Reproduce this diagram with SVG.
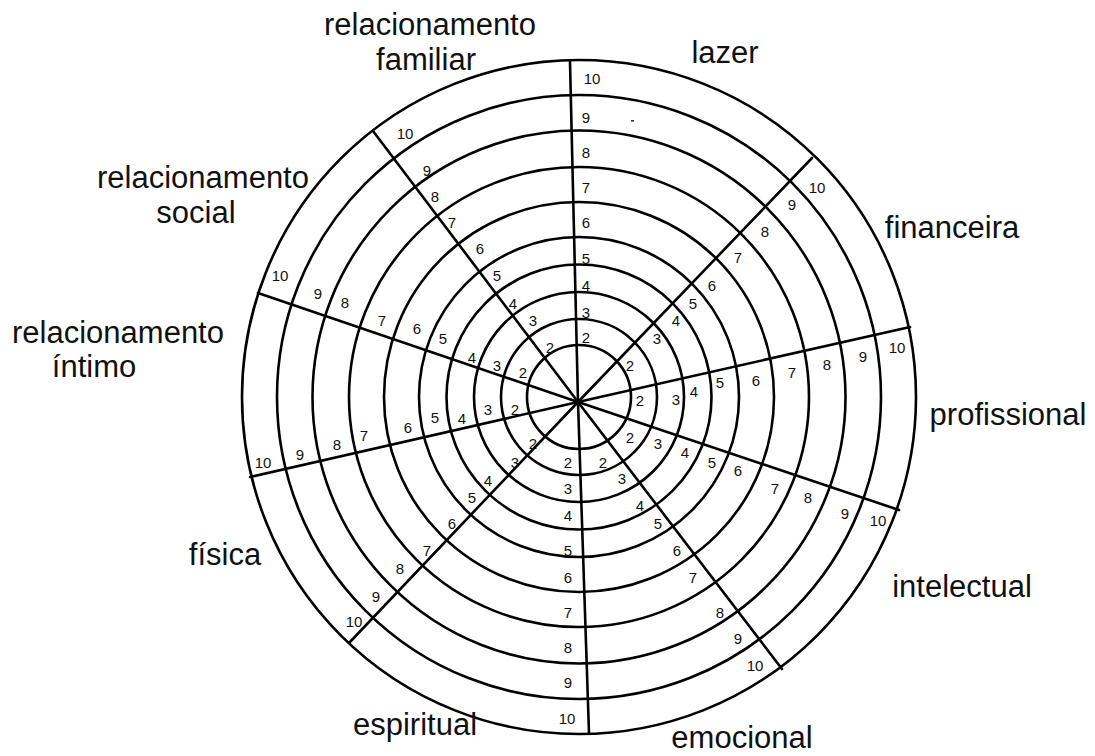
<svg xmlns="http://www.w3.org/2000/svg" width="1095" height="756" viewBox="0 0 1095 756">
<style>
.ring{fill:none;stroke:#000;stroke-width:2.6}
.spoke{stroke:#000;stroke-width:2.6;stroke-linecap:round}
.n text{font-family:"Liberation Sans",Arial,sans-serif;font-size:15px;fill:#111;text-anchor:middle;dominant-baseline:central}
.lbl{font-family:"Liberation Sans",Arial,sans-serif;font-size:31px;fill:#111;text-anchor:middle}
</style>
<rect width="1095" height="756" fill="#fff"/>
<g id="rings" class="ring">
<circle cx="579" cy="397" r="52"/>
<circle cx="579" cy="397" r="78"/>
<circle cx="579" cy="397" r="105"/>
<circle cx="579" cy="397" r="132.5"/>
<circle cx="579" cy="397" r="160"/>
<circle cx="579" cy="397" r="195"/>
<circle cx="579" cy="397" r="230"/>
<circle cx="579" cy="397" r="266.5"/>
<circle cx="579" cy="397" r="302"/>
<circle cx="579" cy="397" r="337"/>
</g>
<g id="connectors" class="spoke">
<line x1="578" y1="402" x2="570" y2="62"/>
<line x1="578" y1="402" x2="812" y2="158"/>
<line x1="578" y1="402" x2="910" y2="327"/>
<line x1="578" y1="402" x2="899" y2="510"/>
<line x1="578" y1="402" x2="782" y2="669"/>
<line x1="578" y1="402" x2="589" y2="733"/>
<line x1="578" y1="402" x2="349" y2="643"/>
<line x1="578" y1="402" x2="250" y2="477"/>
<line x1="578" y1="402" x2="258" y2="293"/>
<line x1="578" y1="402" x2="373" y2="131"/>
</g>
<rect x="631" y="120" width="3" height="1.6" fill="#333"/>
<g id="scale-lazer" class="n">
<text x="586" y="337">2</text><text x="586" y="312">3</text><text x="586" y="285">4</text><text x="586" y="258">5</text><text x="586" y="222">6</text><text x="586" y="187">7</text><text x="586" y="152">8</text><text x="586" y="117">9</text><text x="592" y="78">10</text>
</g>
<g id="scale-financeira" class="n">
<text x="630" y="365">2</text><text x="657" y="338">3</text><text x="676" y="320">4</text><text x="693" y="303">5</text><text x="712" y="285">6</text><text x="738" y="257">7</text><text x="765" y="231">8</text><text x="792" y="204">9</text><text x="817" y="187">10</text>
</g>
<g id="scale-profissional" class="n">
<text x="640" y="400">2</text><text x="676" y="399">3</text><text x="694" y="391">4</text><text x="720" y="382">5</text><text x="756" y="380">6</text><text x="792" y="372">7</text><text x="827" y="364">8</text><text x="863" y="356">9</text><text x="897" y="347">10</text>
</g>
<g id="scale-intelectual" class="n">
<text x="630" y="437">2</text><text x="658" y="443">3</text><text x="685" y="452">4</text><text x="712" y="462">5</text><text x="738" y="470">6</text><text x="775" y="488">7</text><text x="808" y="497">8</text><text x="845" y="513">9</text><text x="878" y="520">10</text>
</g>
<g id="scale-emocional" class="n">
<text x="603" y="462">2</text><text x="622" y="478">3</text><text x="640" y="505">4</text><text x="658" y="523">5</text><text x="677" y="550">6</text><text x="693" y="577">7</text><text x="720" y="612">8</text><text x="738" y="638">9</text><text x="755" y="665">10</text>
</g>
<g id="scale-espiritual" class="n">
<text x="568" y="462">2</text><text x="568" y="488">3</text><text x="568" y="515">4</text><text x="568" y="550">5</text><text x="568" y="577">6</text><text x="568" y="612">7</text><text x="568" y="647">8</text><text x="568" y="682">9</text><text x="567" y="718">10</text>
</g>
<g id="scale-fisica" class="n">
<text x="533" y="443">2</text><text x="515" y="462">3</text><text x="488" y="480">4</text><text x="472" y="497">5</text><text x="452" y="523">6</text><text x="427" y="550">7</text><text x="400" y="568">8</text><text x="376" y="596">9</text><text x="354" y="621">10</text>
</g>
<g id="scale-intimo" class="n">
<text x="515" y="409">2</text><text x="488" y="409">3</text><text x="462" y="418">4</text><text x="435" y="417">5</text><text x="408" y="427">6</text><text x="364" y="435">7</text><text x="337" y="444">8</text><text x="300" y="454">9</text><text x="263" y="462">10</text>
</g>
<g id="scale-social" class="n">
<text x="523" y="372">2</text><text x="497" y="365">3</text><text x="472" y="357">4</text><text x="443" y="338">5</text><text x="417" y="328">6</text><text x="382" y="320">7</text><text x="345" y="302">8</text><text x="318" y="293">9</text><text x="280" y="275">10</text>
</g>
<g id="scale-familiar" class="n">
<text x="550" y="347">2</text><text x="533" y="320">3</text><text x="513" y="303">4</text><text x="497" y="275">5</text><text x="480" y="248">6</text><text x="452" y="222">7</text><text x="435" y="196">8</text><text x="427" y="170">9</text><text x="405" y="133">10</text>
</g>
<g id="label-familiar"><text class="lbl" x="430" y="35">relacionamento</text><text class="lbl" x="426" y="70">familiar</text></g>
<g id="label-lazer"><text class="lbl" x="725" y="63">lazer</text></g>
<g id="label-financeira"><text class="lbl" x="952" y="238">financeira</text></g>
<g id="label-profissional"><text class="lbl" x="1008" y="425">profissional</text></g>
<g id="label-intelectual"><text class="lbl" x="962" y="597">intelectual</text></g>
<g id="label-emocional"><text class="lbl" x="742" y="748">emocional</text></g>
<g id="label-espiritual"><text class="lbl" x="415" y="735">espiritual</text></g>
<g id="label-fisica"><text class="lbl" x="225" y="565">física</text></g>
<g id="label-intimo"><text class="lbl" x="118" y="343">relacionamento</text><text class="lbl" x="94" y="377">íntimo</text></g>
<g id="label-social"><text class="lbl" x="203" y="188">relacionamento</text><text class="lbl" x="196" y="223">social</text></g>
</svg>
